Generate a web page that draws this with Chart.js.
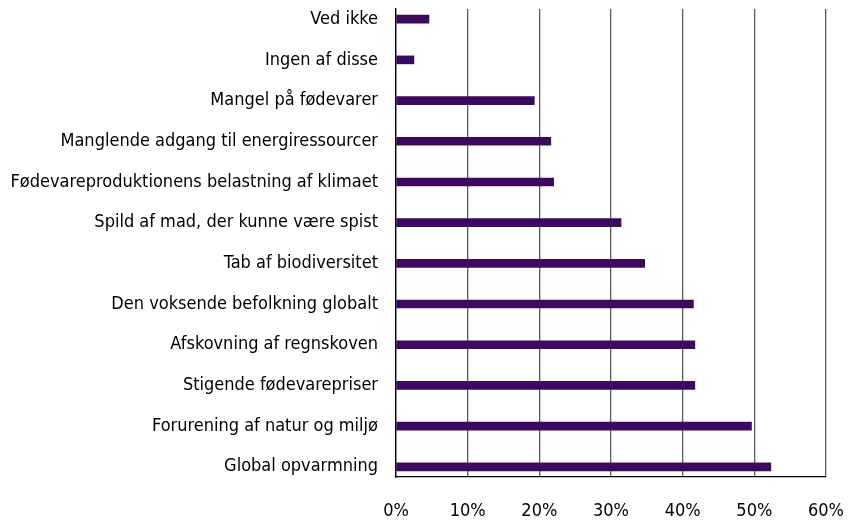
<!DOCTYPE html>
<html>
<head>
<meta charset="utf-8">
<script src="https://cdn.jsdelivr.net/npm/chart.js@4/dist/chart.umd.min.js"></script>
<style>
  html, body { margin: 0; padding: 0; background: #fff; }
  #wrap { width: 856px; height: 527px; }
</style>
</head>
<body>
<div id="wrap"><canvas id="chart" width="856" height="527"></canvas></div>
<script>
// ===== DONNÉES =====
const categories = [
  'Ved ikke',
  'Ingen af disse',
  'Mangel på fødevarer',
  'Manglende adgang til energiressourcer',
  'Fødevareproduktionens belastning af klimaet',
  'Spild af mad, der kunne være spist',
  'Tab af biodiversitet',
  'Den voksende befolkning globalt',
  'Afskovning af regnskoven',
  'Stigende fødevarepriser',
  'Forurening af natur og miljø',
  'Global opvarmning',
]
const values = [4.6, 2.5, 19.3, 21.6, 22.0, 31.4, 34.7, 41.5, 41.7, 41.7, 49.6, 52.3]
const xTicks = [0, 10, 20, 30, 40, 50, 60]

const labelFont = { family: "'Liberation Sans Narrow', 'DejaVu Sans Condensed', sans-serif", size: 18 }

// ===== GRAPHIQUE =====
const ctx = document.getElementById('chart')
new Chart(ctx, {
  type: 'bar',
  data: {
    datasets: [
      {
        data: values.map((v, i) => ({ x: v, y: i })),
        backgroundColor: '#3b0a5c',
        borderWidth: 0,
        barThickness: 8,
      },
    ],
  },
  options: {
    indexAxis: 'y',
    responsive: false,
    animation: false,
    layout: { padding: { top: 9, right: 30, left: 0, bottom: 0 } },
    plugins: { legend: { display: false }, tooltip: { enabled: false } },
    scales: {
      x: {
        type: 'linear',
        min: 0,
        max: 60,
        afterBuildTicks: (axis) => {
          axis.ticks = xTicks.map((v) => ({ value: v }))
        },
        afterFit: (axis) => {
          axis.height = 50
          axis.paddingLeft = 0
          axis.paddingRight = 0
        },
        ticks: {
          color: '#000',
          font: labelFont,
          padding: 24,
          callback: (v) => v + '%',
        },
        grid: { color: '#5a5a5a', lineWidth: 1.3, drawTicks: false },
        border: { display: true, color: '#000', width: 1.3 },
      },
      y: {
        type: 'linear',
        reverse: true,
        offset: false,
        min: -0.25,
        max: 11.25,
        afterBuildTicks: (axis) => {
          axis.ticks = categories.map((c, i) => ({ value: i }))
        },
        afterFit: (axis) => {
          axis.width = 396
          axis.paddingTop = 0
          axis.paddingBottom = 0
        },
        ticks: {
          color: '#000',
          font: labelFont,
          padding: 18,
          autoSkip: false,
          callback: (v) => categories[v],
        },
        grid: { display: false, drawTicks: false, offset: false },
        border: { display: true, color: '#000', width: 1.3 },
      },
    },
  },
})
</script>
</body>
</html>
